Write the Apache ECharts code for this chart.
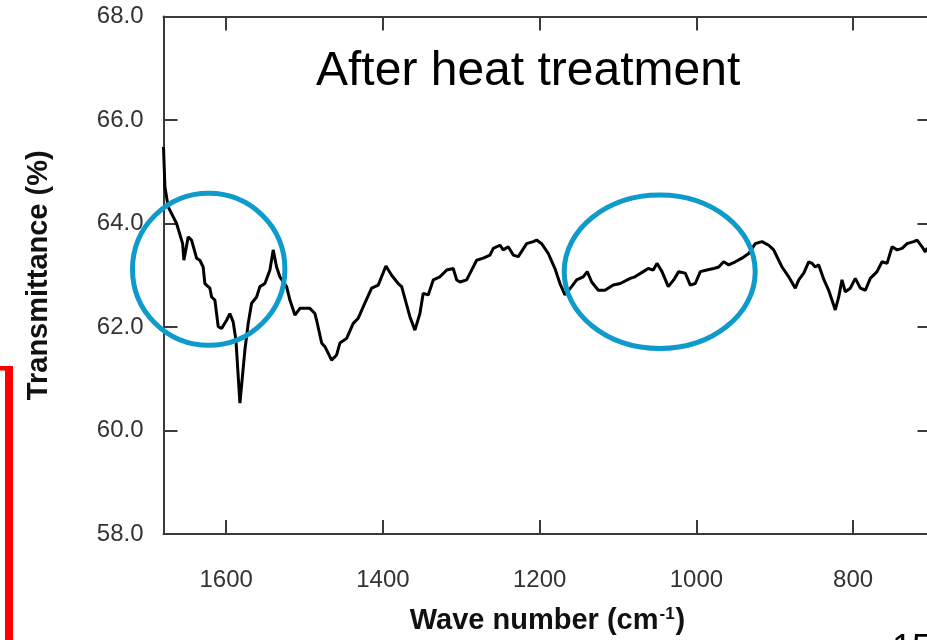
<!DOCTYPE html>
<html><head><meta charset="utf-8">
<script src="https://cdn.jsdelivr.net/npm/echarts@6/dist/echarts.min.js"></script>
<style>html,body{margin:0;padding:0;overflow:hidden;background:#fff}#c{width:945px;height:640px}</style>
</head><body><div id="c"></div>
<script>
// Wave number (cm^-1)
const WN = [1680,1678.2,1674.0,1663.3,1655.6,1654.0,1648.5,1644.2,1637.8,1633.6,1629.4,1627.2,1620.8,1618.6,1614.4,1610.2,1605.9,1599.5,1595.3,1591.1,1587.6,1582.5,1576.1,1571.9,1567.6,1561.2,1557.0,1550.6,1544.2,1540.0,1535.7,1531.5,1522.9,1518.7,1512.3,1505.9,1493.2,1486.8,1484.6,1478.2,1474.0,1465.5,1459.1,1454.9,1446.3,1437.9,1431.5,1425.2,1414.4,1406.0,1396.2,1388.9,1380.5,1376.1,1365.6,1359.2,1352.8,1348.6,1342.2,1335.8,1327.3,1318.7,1310.3,1305.9,1301.7,1293.2,1286.8,1280.4,1272.0,1263.4,1259.2,1250.7,1246.5,1240.1,1233.7,1227.3,1216.6,1208.2,1203.8,1197.5,1189.0,1180.5,1174.1,1167.7,1159.2,1152.8,1144.4,1139.3,1133.6,1125.2,1116.7,1106.1,1097.1,1084.4,1078.4,1067.8,1061.4,1055.0,1050.3,1043.9,1035.9,1029.0,1022.6,1014.2,1007.8,1001.4,995.0,986.5,977.9,971.5,965.2,958.8,950.4,941.8,933.3,924.8,916.3,907.7,901.4,895.0,890.7,882.2,873.8,869.4,863.0,856.7,852.5,848.3,843.9,837.2,831.2,822.8,818.4,814.2,810.0,803.6,797.2,790.8,784.4,778.1,769.5,763.1,756.7,750.3,743.9,737.5,731.2,722.7,718.4,712.0,707.9,705.7,700];
// Transmittance (%)
const TR = [65.48,64.71,64.32,64.00,63.61,63.29,63.74,63.68,63.33,63.29,63.16,62.84,62.75,62.58,62.52,62.01,61.97,62.13,62.26,62.10,61.75,60.53,61.56,62.07,62.46,62.58,62.78,62.84,63.10,63.49,63.16,62.97,62.78,62.52,62.23,62.36,62.36,62.26,62.13,61.69,61.62,61.36,61.46,61.69,61.78,62.07,62.17,62.39,62.75,62.81,63.18,63.00,62.84,62.78,62.20,61.94,62.26,62.65,62.62,62.91,62.97,63.10,63.13,62.91,62.87,62.91,63.10,63.29,63.33,63.39,63.52,63.58,63.49,63.55,63.39,63.36,63.61,63.65,63.68,63.61,63.42,63.13,62.84,62.62,62.78,62.91,62.97,63.07,62.87,62.71,62.71,62.81,62.84,62.94,62.97,63.07,63.13,63.10,63.23,63.07,62.78,62.91,63.07,63.04,62.81,62.84,63.07,63.10,63.13,63.16,63.26,63.20,63.26,63.33,63.42,63.61,63.65,63.58,63.49,63.29,63.16,62.97,62.75,62.91,63.04,63.26,63.23,63.16,63.20,62.91,62.71,62.33,62.58,62.91,62.68,62.75,62.94,62.75,62.71,62.94,63.07,63.26,63.23,63.55,63.49,63.52,63.61,63.65,63.68,63.55,63.45,63.52,63.45];
const X_TICKS = [800, 1000, 1200, 1400, 1600];
const X_MIN = 700, X_MAX = 1680;
const Y_MIN = 58, Y_MAX = 68, Y_STEP = 2;
const TITLE = 'After heat treatment';
const X_NAME = '{a|Wave number (cm}{s|-1}{a|)}';
const Y_NAME = 'Transmittance (%)';

const chart = echarts.init(document.getElementById('c'), null, {renderer: 'canvas'});
const FONT = 'Liberation Sans, Arial, sans-serif';
const AX = '#3a3a3a';
const pts = WN.map((w, i) => [w, TR[i]]);
const tickStyle = {show: true, inside: true, length: 14, lineStyle: {color: AX, width: 2}};
const lineStyle = {show: true, lineStyle: {color: AX, width: 2}};

chart.setOption({
  animation: false,
  backgroundColor: '#fff',
  grid: {left: 163.5, top: 16.5, width: 768, height: 518, containLabel: false},
  xAxis: [{
    type: 'value', min: X_MIN, max: X_MAX, inverse: true, position: 'bottom',
    axisLine: lineStyle,
    axisTick: Object.assign({}, tickStyle, {customValues: X_TICKS}),
    axisLabel: {customValues: X_TICKS, margin: 34, fontSize: 24, color: '#333', fontFamily: FONT, formatter: v => String(v)},
    splitLine: {show: false},
    name: X_NAME, nameLocation: 'middle', nameGap: 72,
    nameTextStyle: {
      rich: {
        a: {fontSize: 29, fontWeight: 'bold', color: '#111', fontFamily: FONT},
        s: {fontSize: 17, fontWeight: 'bold', color: '#111', fontFamily: FONT, verticalAlign: 'top', padding: [0, 1, 12, 1]}
      }
    }
  }, {
    type: 'value', min: X_MIN, max: X_MAX, inverse: true, position: 'top',
    axisLine: lineStyle,
    axisTick: Object.assign({}, tickStyle, {customValues: X_TICKS}),
    axisLabel: {show: false},
    splitLine: {show: false}
  }],
  yAxis: [{
    type: 'value', min: Y_MIN, max: Y_MAX, interval: Y_STEP, position: 'left',
    axisLine: lineStyle, axisTick: tickStyle,
    axisLabel: {margin: 20, fontSize: 24, color: '#333', fontFamily: FONT, formatter: v => v.toFixed(1)},
    splitLine: {show: false},
    name: Y_NAME, nameLocation: 'middle', nameGap: 110,
    nameTextStyle: {fontSize: 29, fontWeight: 'bold', color: '#111', fontFamily: FONT}
  }, {
    type: 'value', min: Y_MIN, max: Y_MAX, interval: Y_STEP, position: 'right',
    axisLine: lineStyle, axisTick: tickStyle,
    axisLabel: {show: false}, splitLine: {show: false}
  }],
  series: [{
    type: 'line', data: pts, xAxisIndex: 0, yAxisIndex: 0,
    showSymbol: false, symbol: 'none', smooth: false,
    lineStyle: {color: '#000', width: 3}
  }],
  graphic: [
    {type: 'text', left: 316, top: 48, style: {text: TITLE, fontSize: 48, fontFamily: FONT, fill: '#000'}},
    {type: 'ellipse', shape: {cx: 208.7, cy: 269.2, rx: 76.2, ry: 76}, style: {fill: 'none', stroke: '#0e9bcc', lineWidth: 5}, z: 10},
    {type: 'ellipse', shape: {cx: 659.7, cy: 271.8, rx: 95.5, ry: 76.7}, style: {fill: 'none', stroke: '#0e9bcc', lineWidth: 5}, z: 10},
    {type: 'rect', shape: {x: 5, y: 366, width: 8, height: 300}, style: {fill: '#ff0000'}},
    {type: 'rect', shape: {x: 0, y: 366, width: 13, height: 4.5}, style: {fill: '#ff0000'}},
    {type: 'text', x: 892, y: 650, style: {text: '15', fontSize: 36, fontFamily: FONT, fill: '#000', verticalAlign: 'middle', align: 'left'}}
  ]
});
</script></body></html>
